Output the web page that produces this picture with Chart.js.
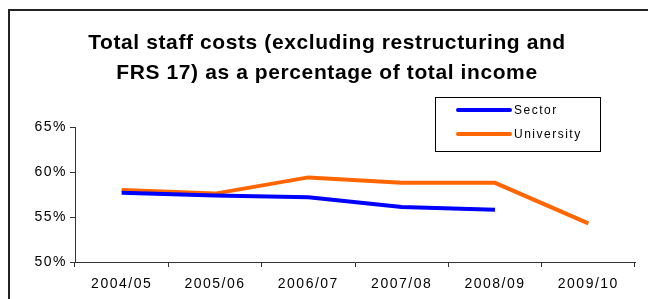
<!DOCTYPE html>
<html>
<head>
<meta charset="utf-8">
<script src="https://cdn.jsdelivr.net/npm/chart.js@4.4.1/dist/chart.umd.min.js"></script>
<style>
  html, body { margin: 0; padding: 0; background: #fff; }
  canvas { display: block; }
</style>
</head>
<body>
<canvas id="chart" width="648" height="299"></canvas>
<script>
const years = ["2004/05", "2005/06", "2006/07", "2007/08", "2008/09", "2009/10"];
const sector = [57.7, 57.4, 57.2, 56.1, 55.8, null];
const university = [58.0, 57.6, 59.4, 58.8, 58.8, 54.3];
const titleLines = [
  "Total staff costs (excluding restructuring and",
  "FRS 17) as a percentage of total income"
];

const FONT = "'Liberation Sans', Arial, sans-serif";
const TICK_SPACING = "1.5px";
const TITLE_SPACING = "0.6px";

// excel-like spaced text + white background and the outer frame
// title is drawn before the datasets, tick labels after them (ticks.z = 1)
const spacingPlugin = {
  id: "spacing",
  beforeLayout(chart) { chart.ctx.letterSpacing = TICK_SPACING; },
  beforeDraw(chart) {
    const ctx = chart.ctx;
    ctx.save();
    ctx.fillStyle = "#fff";
    ctx.fillRect(0, 0, chart.width, chart.height);
    ctx.strokeStyle = "#222";
    ctx.lineWidth = 2;
    ctx.strokeRect(9, 10, 700, 400);
    ctx.restore();
    ctx.letterSpacing = TITLE_SPACING;
  },
  afterDatasetsDraw(chart) { chart.ctx.letterSpacing = TICK_SPACING; }
};

// legend box floating over the plot, top right
const boxLegend = {
  id: "boxLegend",
  afterDraw(chart) {
    const ctx = chart.ctx;
    const x = 435, y = 97, w = 165, h = 54;
    ctx.save();
    ctx.letterSpacing = TICK_SPACING;
    ctx.fillStyle = "#fff";
    ctx.fillRect(x, y, w, h);
    ctx.strokeStyle = "#000";
    ctx.lineWidth = 1;
    ctx.strokeRect(x + 0.5, y + 0.5, w, h);
    ctx.font = "12px " + FONT;
    ctx.textBaseline = "middle";
    chart.data.datasets.forEach((ds, i) => {
      const ly = y + 13 + i * 24;
      ctx.strokeStyle = ds.borderColor;
      ctx.lineWidth = 4;
      ctx.lineCap = "round";
      ctx.beginPath();
      ctx.moveTo(x + 23, ly);
      ctx.lineTo(x + 75, ly);
      ctx.stroke();
      ctx.fillStyle = "#000";
      ctx.fillText(ds.label, x + 79, ly + 1);
    });
    ctx.restore();
  }
};

new Chart(document.getElementById("chart"), {
  type: "line",
  data: {
    labels: years,
    datasets: [
      {
        label: "Sector",
        data: sector,
        borderColor: "#0000FF",
        backgroundColor: "#0000FF",
        borderWidth: 4,
        pointRadius: 0,
        tension: 0
      },
      {
        label: "University",
        data: university,
        borderColor: "#FF6600",
        backgroundColor: "#FF6600",
        borderWidth: 4,
        pointRadius: 0,
        tension: 0
      }
    ]
  },
  options: {
    responsive: false,
    animation: false,
    layout: { padding: { left: 19, right: 13, top: 0, bottom: 0 } },
    plugins: {
      legend: { display: false },
      tooltip: { enabled: false },
      title: {
        display: true,
        text: titleLines,
        color: "#000",
        font: { family: FONT, size: 21, weight: "bold", lineHeight: 30 / 21 },
        padding: { top: 28, bottom: 39 }
      }
    },
    scales: {
      x: {
        offset: true,
        afterFit(scale) { scale.height = 37; },
        grid: { offset: true, drawOnChartArea: false, tickLength: 5, color: "#333" },
        border: { color: "#333", width: 1 },
        ticks: { z: 1, color: "#000", padding: 9, font: { family: FONT, size: 14 }, maxRotation: 0 }
      },
      y: {
        min: 50,
        max: 65,
        afterFit(scale) { scale.width = 56; },
        grid: { drawOnChartArea: false, tickLength: 5, color: "#333" },
        border: { color: "#333", width: 1 },
        ticks: {
          z: 1,
          stepSize: 5,
          color: "#000",
          padding: 3,
          font: { family: FONT, size: 14 },
          callback: (v) => v + "%"
        }
      }
    }
  },
  plugins: [spacingPlugin, boxLegend]
});
</script>
</body>
</html>
